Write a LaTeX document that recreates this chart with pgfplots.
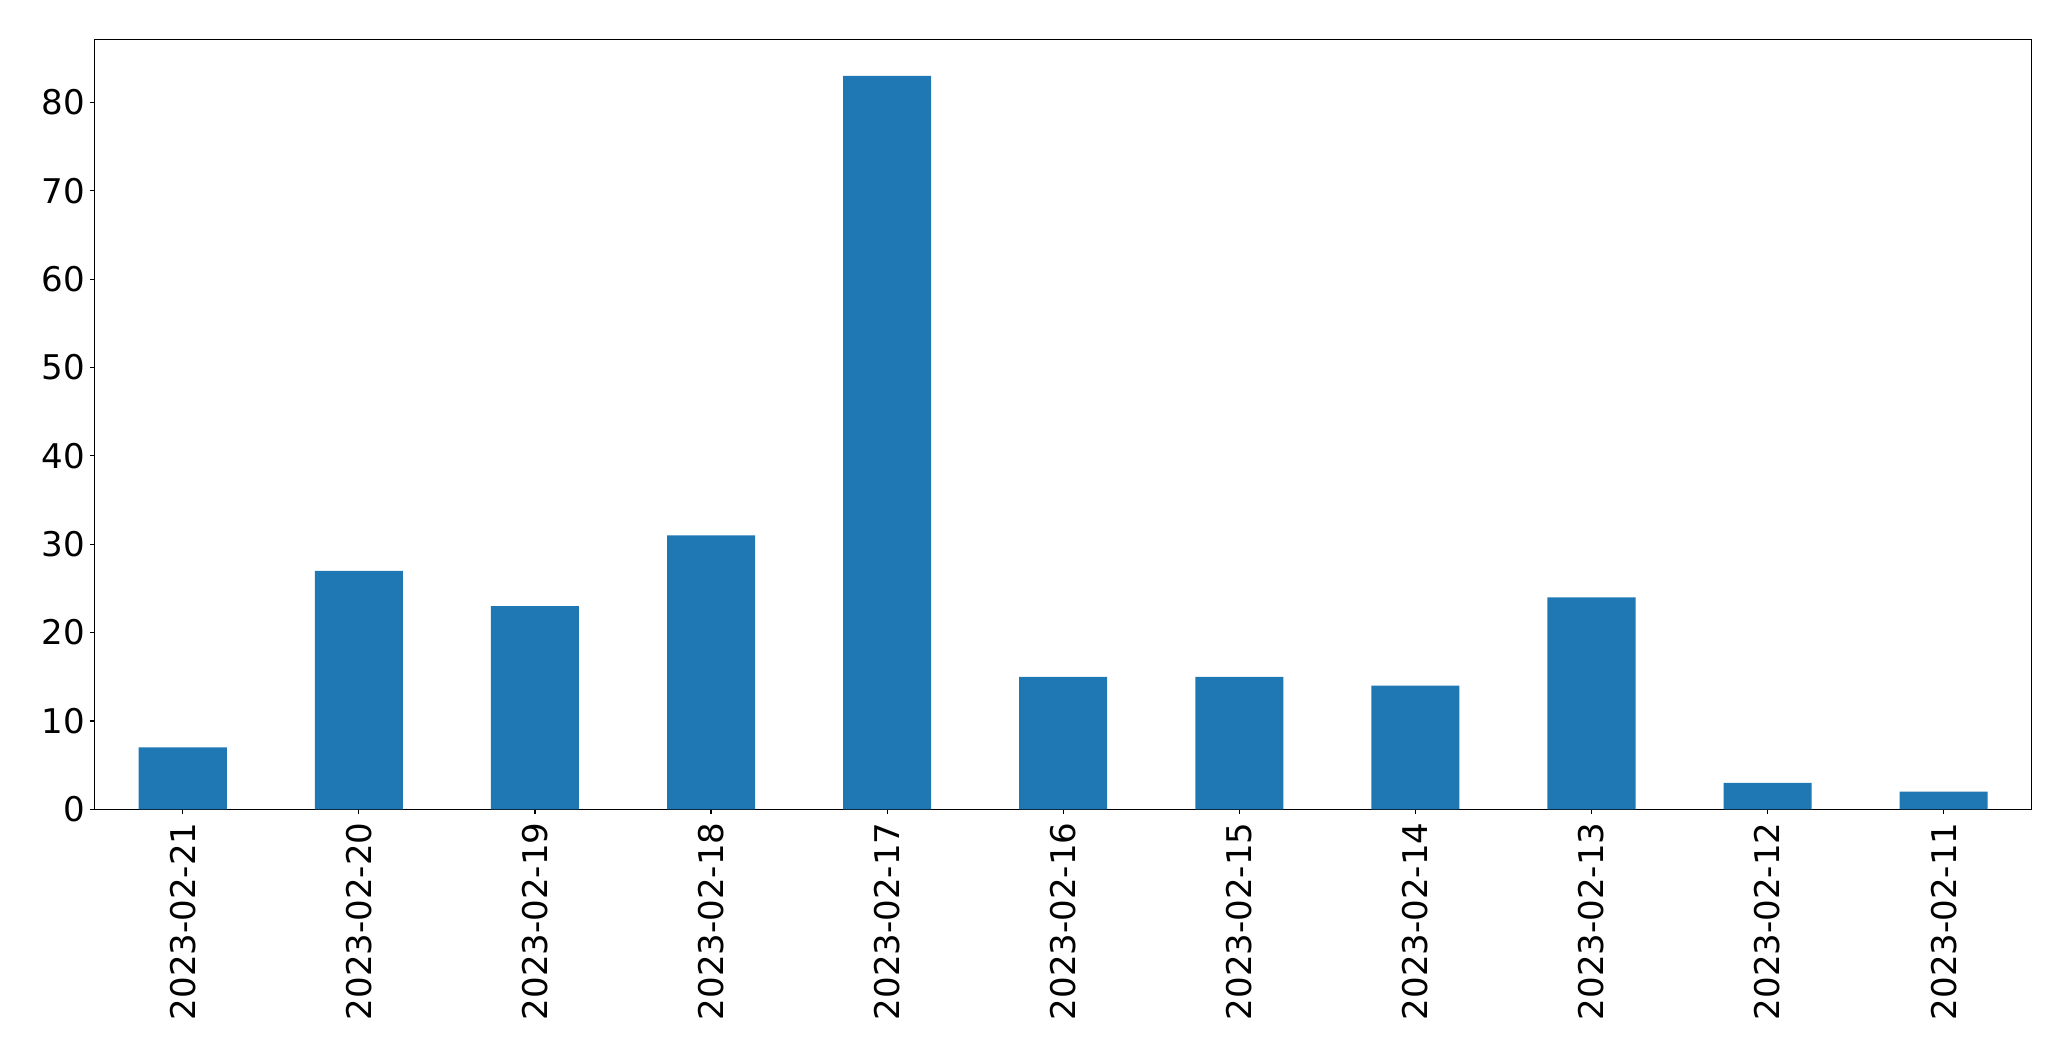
\documentclass[border=0pt]{standalone}
\usepackage{pgfplots}
\pgfplotsset{compat=1.18}
\usepackage{fontspec}
\setmainfont{DejaVu Sans}
\definecolor{mplblue}{HTML}{1F77B4}
\begin{document}
\begin{tikzpicture}
\path[use as bounding box] (-68.2bp,-181.2bp) rectangle (1394.6bp+28.3bp,554.4bp+28.3bp);
\begin{axis}[
  at={(0,0)}, anchor=south west,
  scale only axis,
  width=1394.6bp, height=554.4bp,
  xmin=-0.5, xmax=10.5,
  ymin=0, ymax=87.15,
  ybar, bar width=0.5, bar shift=0pt,
  axis line style={line width=0.8bp},
  tick style={line width=0.8bp, black},
  tick align=outside,
  major tick length=3.5bp,
  xtick pos=bottom, ytick pos=left,
  xtick={0,...,10},
  xticklabels={2023-02-21,2023-02-20,2023-02-19,2023-02-18,2023-02-17,2023-02-16,2023-02-15,2023-02-14,2023-02-13,2023-02-12,2023-02-11},
  ytick={0,10,...,80},
  /pgf/number format/assume math mode=true,
  ticklabel style={font=\fontsize{24.5bp}{28bp}\selectfont},
  xticklabel style={rotate=90, anchor=east, inner sep=0pt, outer sep=0pt},
  yticklabel style={inner sep=0pt, outer sep=0pt, xshift=-3.5bp},
  xticklabel shift=6bp,
]
\addplot[fill=mplblue, draw=none] coordinates {
(0,7) (1,27) (2,23) (3,31) (4,83) (5,15) (6,15) (7,14) (8,24) (9,3) (10,2)
};
\end{axis}
\end{tikzpicture}
\end{document}
